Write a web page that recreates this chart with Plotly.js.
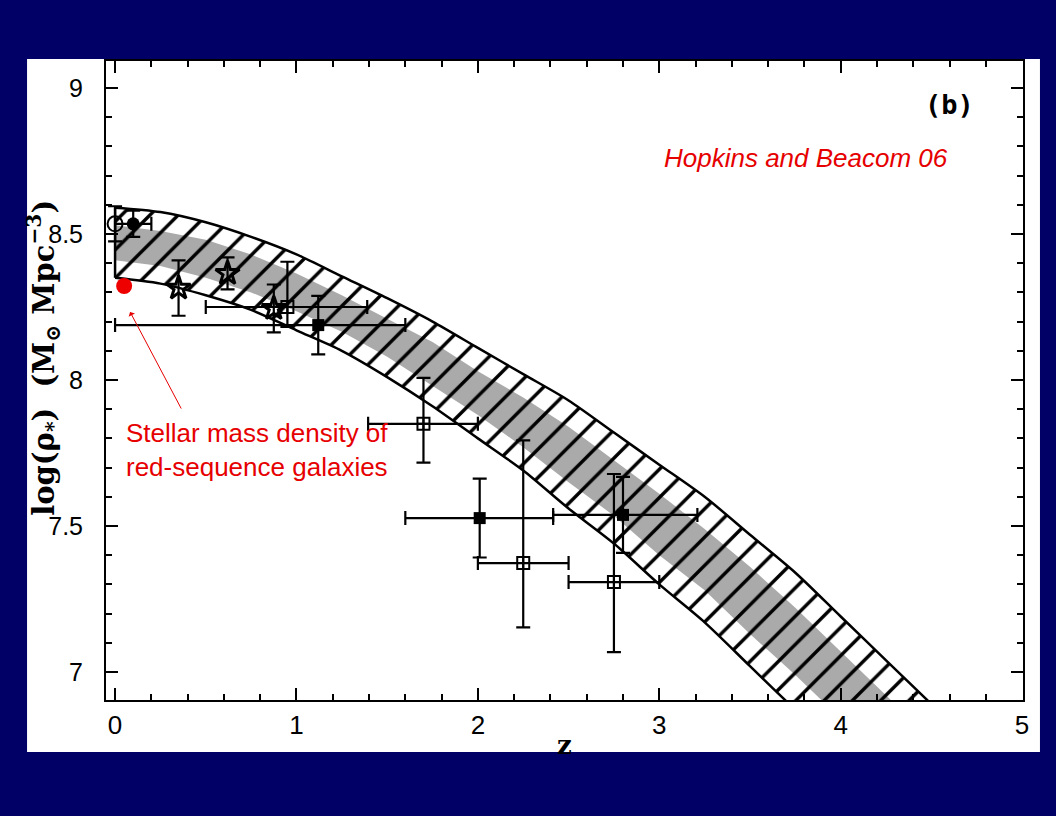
<!DOCTYPE html>
<html>
<head>
<meta charset="utf-8">
<script src="https://cdn.plot.ly/plotly-3.0.1.min.js"></script>
<style>
  html, body { margin: 0; padding: 0; background: #000066; }
  #chart { width: 1056px; height: 816px; }
</style>
</head>
<body>
<div id="chart"></div>
<script>
// ---- Band (Hopkins & Beacom 06) ----
const bandZ      = [0, 0.25, 0.5, 0.75, 1.0, 1.25, 1.5, 1.75, 2.0, 2.25, 2.5, 2.75, 3.0, 3.25, 3.5, 3.75, 4.0, 4.25, 4.5];
const bandUpper  = [8.59, 8.575, 8.54, 8.49, 8.43, 8.355, 8.28, 8.20, 8.11, 8.02, 7.93, 7.82, 7.71, 7.60, 7.47, 7.34, 7.19, 7.04, 6.89];
const bandLower  = [8.35, 8.33, 8.29, 8.24, 8.17, 8.10, 8.01, 7.91, 7.80, 7.69, 7.56, 7.44, 7.30, 7.17, 7.02, 6.87, 6.72, 6.57, 6.41];
const greyUpper  = [8.53, 8.51, 8.48, 8.43, 8.365, 8.29, 8.21, 8.13, 8.03, 7.94, 7.84, 7.725, 7.61, 7.49, 7.36, 7.22, 7.07, 6.92, 6.77];
const greyLower  = [8.41, 8.39, 8.35, 8.30, 8.235, 8.165, 8.08, 7.98, 7.88, 7.77, 7.65, 7.535, 7.40, 7.28, 7.13, 6.99, 6.84, 6.69, 6.53];

// ---- Data points ----
const openCircleZ = [0.0];
const openCircleY = [8.535];
const openCircleErrY = [0.06];

const fillCircleZ = [0.1];
const fillCircleY = [8.535];
const fillCircleErrY = [0.045];
const fillCircleErrX = [0.1];

const starZ = [0.35, 0.62, 0.875];
const starY = [8.315, 8.365, 8.245];
const starErrY = [0.095, 0.055, 0.082];

const openSqZ = [0.95, 1.70, 2.25, 2.75];
const openSqY = [8.25, 7.85, 7.373, 7.308];
const openSqErrYPlus  = [0.155, 0.157, 0.42, 0.37];
const openSqErrYMinus = [0.068, 0.133, 0.22, 0.24];
const openSqErrXPlus  = [0.44, 0.30, 0.25, 0.25];
const openSqErrXMinus = [0.45, 0.305, 0.25, 0.25];

const fillSqZ = [1.12, 2.01, 2.80];
const fillSqY = [8.188, 7.527, 7.538];
const fillSqErrY = [0.10, 0.135, 0.13];
const fillSqErrXPlus  = [0.48, 0.405, 0.41];
const fillSqErrXMinus = [1.12, 0.41, 0.385];

const redSeqZ = [0.05];
const redSeqY = [8.322];

const xTickVals = [0, 1, 2, 3, 4, 5];
const yTickVals = [7, 7.5, 8, 8.5, 9];

// ---- polygons built from the arrays ----
function polygon(xs, top, bottom) {
  const px = xs.concat(xs.slice().reverse(), [xs[0]]);
  const py = top.concat(bottom.slice().reverse(), [top[0]]);
  return {px, py};
}
const greyPoly = polygon(bandZ, greyUpper, greyLower);
const bandPoly = polygon(bandZ, bandUpper, bandLower);

const errStyle = {color: 'black', thickness: 2.2, width: 7};
const edgeLine = {width: 2.5, color: 'black', shape: 'spline', smoothing: 0.8};

const traces = [
  {
    x: greyPoly.px, y: greyPoly.py, type: 'scatter', mode: 'lines',
    fill: 'toself', fillcolor: '#aaaaaa', line: {width: 0, color: 'rgba(0,0,0,0)'},
    hoverinfo: 'skip', showlegend: false
  },
  {
    x: bandPoly.px, y: bandPoly.py, type: 'scatter', mode: 'lines',
    fill: 'toself', fillcolor: 'rgba(0,0,0,0)',
    fillpattern: {shape: '/', fgcolor: 'black', bgcolor: 'rgba(0,0,0,0)', size: 20, solidity: 0.17},
    line: {width: 0, color: 'rgba(0,0,0,0)'},
    hoverinfo: 'skip', showlegend: false
  },
  { x: bandZ, y: bandUpper, type: 'scatter', mode: 'lines', line: edgeLine, hoverinfo: 'skip', showlegend: false },
  { x: bandZ, y: bandLower, type: 'scatter', mode: 'lines', line: edgeLine, hoverinfo: 'skip', showlegend: false },
  { x: [bandZ[0], bandZ[0]], y: [bandLower[0], bandUpper[0]], type: 'scatter', mode: 'lines',
    line: {width: 2.5, color: 'black'}, hoverinfo: 'skip', showlegend: false },
  {
    x: openCircleZ, y: openCircleY, type: 'scatter', mode: 'markers',
    marker: {symbol: 'circle-open', size: 15, color: 'black', line: {width: 2, color: 'black'}},
    error_y: Object.assign({type: 'data', array: openCircleErrY, visible: true}, errStyle),
    showlegend: false
  },
  {
    x: fillCircleZ, y: fillCircleY, type: 'scatter', mode: 'markers',
    marker: {symbol: 'circle', size: 13, color: 'black'},
    error_y: Object.assign({type: 'data', array: fillCircleErrY, visible: true}, errStyle),
    error_x: Object.assign({type: 'data', array: fillCircleErrX, visible: true}, errStyle),
    showlegend: false
  },
  {
    x: starZ, y: starY, type: 'scatter', mode: 'markers',
    marker: {symbol: 'star-open', size: 18, color: 'black', line: {width: 3, color: 'black'}},
    error_y: Object.assign({type: 'data', array: starErrY, visible: true}, errStyle),
    showlegend: false
  },
  {
    x: openSqZ, y: openSqY, type: 'scatter', mode: 'markers',
    marker: {symbol: 'square-cross-open', size: 12, color: 'black', line: {width: 2, color: 'black'}},
    error_y: Object.assign({type: 'data', symmetric: false, array: openSqErrYPlus, arrayminus: openSqErrYMinus, visible: true}, errStyle),
    error_x: Object.assign({type: 'data', symmetric: false, array: openSqErrXPlus, arrayminus: openSqErrXMinus, visible: true}, errStyle),
    showlegend: false
  },
  {
    x: fillSqZ, y: fillSqY, type: 'scatter', mode: 'markers',
    marker: {symbol: 'square', size: 12, color: 'black'},
    error_y: Object.assign({type: 'data', array: fillSqErrY, visible: true}, errStyle),
    error_x: Object.assign({type: 'data', symmetric: false, array: fillSqErrXPlus, arrayminus: fillSqErrXMinus, visible: true}, errStyle),
    showlegend: false
  },
  {
    x: redSeqZ, y: redSeqY, type: 'scatter', mode: 'markers',
    marker: {symbol: 'circle', size: 16, color: '#ee0000'},
    showlegend: false
  }
];

const layout = {
  width: 1056, height: 816,
  paper_bgcolor: '#000066',
  plot_bgcolor: 'white',
  margin: {l: 106, r: 33, t: 61, b: 116, pad: 0},
  showlegend: false,
  xaxis: {
    range: [-0.05, 5.005],
    tickvals: xTickVals,
    ticks: 'inside', ticklen: 12, tickwidth: 2, tickcolor: 'black',
    minor: {dtick: 0.2, ticks: 'inside', ticklen: 6, tickwidth: 2, tickcolor: 'black'},
    showline: true, linecolor: 'black', linewidth: 2, mirror: 'ticks',
    showgrid: false, zeroline: false,
    tickfont: {family: 'Liberation Sans, Arial', size: 26, color: 'black'},
    ticklabelstandoff: 1,
    automargin: false
  },
  yaxis: {
    range: [6.904, 9.0925],
    tickvals: yTickVals,
    ticks: 'inside', ticklen: 12, tickwidth: 2, tickcolor: 'black',
    minor: {dtick: 0.1, ticks: 'inside', ticklen: 6, tickwidth: 2, tickcolor: 'black'},
    showline: true, linecolor: 'black', linewidth: 2, mirror: 'ticks',
    showgrid: false, zeroline: false,
    tickfont: {family: 'Liberation Sans, Arial', size: 25, color: 'black'},
    ticklabelstandoff: 16,
    automargin: false
  },
  shapes: [
    {type: 'rect', xref: 'paper', yref: 'paper', x0: -0.0861, x1: 1.0185, y0: -0.0814, y1: 1.003,
     fillcolor: 'white', line: {width: 0}, layer: 'below'}
  ],
  annotations: [
    {xref: 'paper', yref: 'paper', x: -0.068, y: 0.535, xanchor: 'center', yanchor: 'middle',
     textangle: -90, showarrow: false,
     text: 'log(ρ<sub>*</sub>)  (M<sub>⊙</sub> Mpc<sup>−3</sup>)',
     font: {family: 'DejaVu Serif, Liberation Serif', size: 29, color: 'black', weight: 'bold'}},
    {xref: 'paper', yref: 'paper', x: 0.5003, y: -0.0705, xanchor: 'center', yanchor: 'middle',
     showarrow: false, text: 'z',
     font: {family: 'DejaVu Serif, Liberation Serif', size: 26, color: 'black', weight: 'bold'}},
    {x: 4.60, y: 8.945, xref: 'x', yref: 'y', showarrow: false, text: '(b)',
     xanchor: 'center', yanchor: 'middle',
     font: {family: 'DejaVu Sans Mono, Liberation Mono', size: 27, color: 'black', weight: 'bold'}},
    {x: 3.81, y: 8.76, xref: 'x', yref: 'y', showarrow: false, text: '<i>Hopkins and Beacom 06</i>',
     xanchor: 'center', yanchor: 'middle', font: {family: 'Liberation Sans, Arial', size: 26, color: '#e60000'}},
    {x: 0.05, y: 7.76, xref: 'x', yref: 'y', showarrow: false, xanchor: 'left', yanchor: 'middle', align: 'left',
     text: 'Stellar mass density of<br>red-sequence galaxies',
     font: {family: 'Liberation Sans, Arial', size: 26, color: '#e60000'}},
    {x: 0.083, y: 8.233, ax: 0.369, ay: 7.897, xref: 'x', yref: 'y', axref: 'x', ayref: 'y',
     text: '', showarrow: true, arrowhead: 1, arrowsize: 1.2, arrowwidth: 1, arrowcolor: '#e60000'}
  ]
};

Plotly.newPlot('chart', traces, layout, {displayModeBar: false, staticPlot: true});
</script>
</body>
</html>
